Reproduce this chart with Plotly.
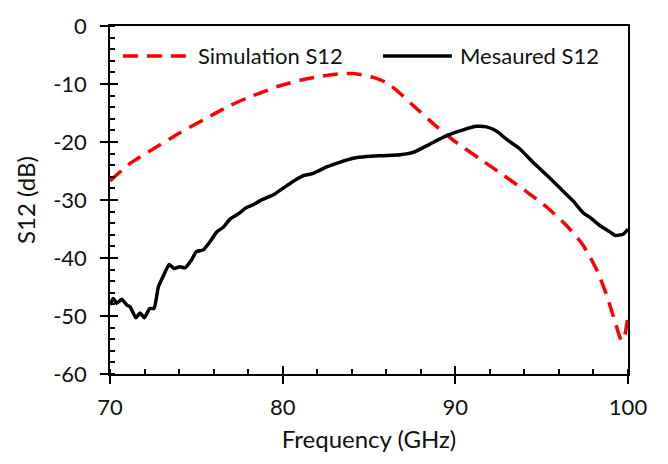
import plotly.graph_objects as go

# Simulated S12 (dB) vs frequency (GHz)
sim_freq = [70.0, 71.16, 72.5, 74.05, 75.4, 76.95, 78.3, 79.84, 81.4, 82.93, 84.1,
            85.3, 86.0, 86.6, 87.56, 88.9, 90.07, 91.42, 92.77, 94.1, 94.9, 95.29,
            96.44, 97.4, 98.18, 98.76, 99.24, 99.63, 99.82, 100.0]
sim_s12 = [-26.7, -23.7, -21.2, -18.4, -16.2, -13.7, -12.0, -10.3, -9.1, -8.35, -8.2,
           -8.9, -9.75, -11.1, -13.7, -17.3, -20.1, -22.9, -25.7, -28.5, -30.3, -31.2,
           -34.4, -37.8, -42.0, -46.4, -50.9, -54.3, -53.2, -49.8]

# Measured S12 (dB) vs frequency (GHz)
meas_freq = [70.0, 70.19, 70.39, 70.68, 70.97, 71.16, 71.5, 71.74, 71.99, 72.3, 72.55,
             72.8, 73.09, 73.43, 73.7, 74.05, 74.34, 74.73, 75.0, 75.4, 75.79, 76.18,
             76.56, 76.95, 77.43, 77.9, 78.3, 78.7, 79.46, 80.03, 80.6, 81.2, 81.77,
             82.55, 83.3, 84.09, 84.86, 85.83, 86.8, 87.56, 88.5, 89.5, 90.46, 91.23,
             91.8, 92.4, 92.97, 93.74, 94.5, 95.29, 96.06, 96.83, 97.4, 97.8, 98.37,
             98.95, 99.24, 99.72, 100.0]
meas_s12 = [-48.1, -47.0, -47.8, -47.1, -48.1, -48.4, -50.3, -49.5, -50.3, -48.7, -48.7,
            -45.0, -43.1, -41.1, -41.8, -41.5, -41.7, -40.3, -38.9, -38.6, -37.2, -35.5,
            -34.7, -33.3, -32.4, -31.3, -30.8, -30.1, -29.1, -27.95, -26.8, -25.8, -25.4,
            -24.3, -23.5, -22.8, -22.5, -22.35, -22.2, -21.8, -20.4, -18.9, -17.9, -17.3,
            -17.4, -18.15, -19.55, -21.2, -23.5, -25.7, -27.95, -30.2, -32.2, -33.0, -34.4,
            -35.5, -36.1, -35.9, -35.0]

series_names = ["Simulation S12", "Mesaured S12"]
x_ticks = [70, 80, 90, 100]
y_ticks = [0, -10, -20, -30, -40, -50, -60]
y_tick_text = ["0", "-10", "-20", "-30", "-40", "-50", "-60"]

FONT = "Lato"
TEXT = "#111111"
RED = "#ff0000"
BLACK = "#000000"
DASH = "15px,9px"
x_range = [70, 100]
y_range = [-60, 0]

fig = go.Figure()
fig.add_trace(go.Scatter(x=sim_freq, y=sim_s12, mode="lines", name=series_names[0],
                         line=dict(color=RED, width=3.5, dash=DASH, shape="spline",
                                   smoothing=0.6),
                         showlegend=False))
fig.add_trace(go.Scatter(x=meas_freq, y=meas_s12, mode="lines", name=series_names[1],
                         line=dict(color=BLACK, width=3.5, shape="spline", smoothing=0.5),
                         showlegend=False))
# invisible trace that carries the overlay axes (inner half of the crossing ticks)
fig.add_trace(go.Scatter(x=[70], y=[0], xaxis="x2", yaxis="y2", mode="markers",
                         marker=dict(opacity=0), showlegend=False, hoverinfo="skip"))

axis_common = dict(showgrid=False, zeroline=False, showline=True, linecolor=BLACK,
                   linewidth=1.5, ticks="outside", ticklen=8, tickwidth=1.5,
                   tickcolor=BLACK, mirror=True,
                   tickfont=dict(family=FONT, size=22, color=TEXT))
minor_ticks = dict(ticks="inside", ticklen=5, tickwidth=1.5, dtick=2, tickcolor=BLACK)

fig.update_layout(
    width=668, height=464,
    margin=dict(l=110, r=40, t=17, b=90),
    paper_bgcolor="white", plot_bgcolor="white",
    xaxis=dict(range=x_range, tickvals=x_ticks, **axis_common, minor=minor_ticks,
               ticklabelstandoff=5,
               title=dict(text="Frequency (GHz)", standoff=12,
                          font=dict(family=FONT, size=24, color=TEXT))),
    yaxis=dict(range=y_range, tickvals=y_ticks, ticktext=y_tick_text, **axis_common,
               minor=minor_ticks, ticklabelstandoff=9,
               title=dict(text="S12 (dB)", standoff=11,
                          font=dict(family=FONT, size=24, color=TEXT))),
    xaxis2=dict(range=x_range, overlaying="x", anchor="y", tickvals=x_ticks,
                ticks="inside", ticklen=8, tickwidth=1.5, tickcolor=BLACK,
                showticklabels=False, showgrid=False, zeroline=False, showline=False),
    yaxis2=dict(range=y_range, overlaying="y", anchor="x", tickvals=y_ticks,
                ticks="inside", ticklen=8, tickwidth=1.5, tickcolor=BLACK,
                showticklabels=False, showgrid=False, zeroline=False, showline=False),
)

# legend row inside the plot
legend_y = 0.914
fig.add_shape(type="line", xref="paper", yref="paper", x0=0.025, x1=0.160,
              y0=legend_y, y1=legend_y, line=dict(color=RED, width=3.5, dash=DASH))
fig.add_annotation(xref="paper", yref="paper", x=0.170, y=legend_y, text=series_names[0],
                   showarrow=False, xanchor="left", yanchor="middle", xshift=-2,
                   font=dict(family=FONT, size=22, color=TEXT))
fig.add_shape(type="line", xref="paper", yref="paper", x0=0.527, x1=0.660,
              y0=legend_y, y1=legend_y, line=dict(color=BLACK, width=3.5))
fig.add_annotation(xref="paper", yref="paper", x=0.676, y=legend_y, text=series_names[1],
                   showarrow=False, xanchor="left", yanchor="middle", xshift=-2,
                   font=dict(family=FONT, size=22, color=TEXT))

fig.write_html("out.html")
